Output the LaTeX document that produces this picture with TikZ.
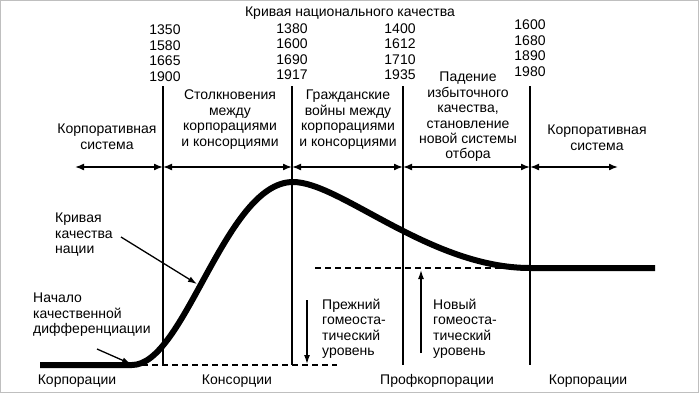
\documentclass[tikz,border=0pt]{standalone}
\usepackage{fontspec}
\setmainfont{Liberation Sans}
\usetikzlibrary{arrows.meta}
\begin{document}
\begin{tikzpicture}[x=1pt,y=-1pt,
  lbl/.style={font=\fontsize{14}{15.4}\selectfont, inner sep=0pt, align=center, anchor=north},
  lblL/.style={lbl, align=left, anchor=north west},
  vline/.style={line width=2pt},
  span/.style={line width=1.6pt, {Latex[length=9pt,width=7pt]}-{Latex[length=9pt,width=7pt]}},
  ptr/.style={line width=1.3pt, -{Latex[length=9pt,width=6pt]}},
  qcurve/.style={line width=6pt},
  dashline/.style={line width=2pt, dash pattern=on 6pt off 4pt},
]
\path[use as bounding box] (0,0) rectangle (700,394);
\draw[black!25, line width=1pt] (0.5,0.5) rectangle (698,392.5);

% title and years
\node[lbl, anchor=base] (title) at (350,16) {Кривая национального качества};
\node[lbl] (y1) at (165,25) {1350\\1580\\1665\\1900};
\node[lbl] (y2) at (292,23.3) {1380\\1600\\1690\\1917};
\node[lbl] (y3) at (400,23.3) {1400\\1612\\1710\\1935};
\node[lbl] (y4) at (530,20) {1600\\1680\\1890\\1980};

% period labels
\node[lbl] (p0) at (107,124) {Корпоративная\\система};
\node[lbl] (p1) at (230,90) {Столкновения\\между\\корпорациями\\и консорциями};
\node[lbl] (p2) at (348,90) {Гражданские\\войны между\\корпорациями\\и консорциями};
\node[lbl] (p3) at (468,72) {Падение\\избыточного\\качества,\\становление\\новой системы\\отбора};
\node[lbl] (p4) at (597,125) {Корпоративная\\система};

% vertical lines
\coordinate (v1t) at (163,86);  \coordinate (v1b) at (163,365);
\coordinate (v2t) at (292,86);  \coordinate (v2b) at (292,365);
\coordinate (v3t) at (403,86);  \coordinate (v3b) at (403,365);
\coordinate (v4t) at (530,86);  \coordinate (v4b) at (530,365);
\draw[vline] (v1t) -- (v1b);
\draw[vline] (v2t) -- (v2b);
\draw[vline] (v3t) -- (v3b);
\draw[vline] (v4t) -- (v4b);

% span arrows
\coordinate (a0) at (75,167);
\coordinate (a1) at (163,167);
\coordinate (a2) at (292,167);
\coordinate (a3) at (403,167);
\coordinate (a4) at (530,167);
\coordinate (a5) at (618,167);
\draw[span] (a0) -- (a1);
\draw[span] (a1) -- (a2);
\draw[span] (a2) -- (a3);
\draw[span] (a3) -- (a4);
\draw[span] (a4) -- (a5);

% dashed levels
\coordinate (d1a) at (132,365); \coordinate (d1b) at (337,365);
\coordinate (d2a) at (315,268); \coordinate (d2b) at (530,268);
\draw[dashline] (d1a) -- (d1b);
\draw[dashline] (d2a) -- (d2b);

% quality curve
\coordinate (c0) at (40,365);
\coordinate (c1) at (132,365);
\coordinate (c2) at (293,182);
\coordinate (c3) at (530,268);
\coordinate (c4) at (655,268);
\draw[qcurve] (c0) -- (c1) .. controls (185,365) and (225,182) .. (c2)
  .. controls (340,182) and (430,268) .. (c3) -- (c4);

% annotations
\node[lblL] (kq) at (55,213) {Кривая\\качества\\нации};
\coordinate (kqs) at (121,237); \coordinate (kqe) at (197,284);
\draw[ptr] (kqs) -- (kqe);
\node[lblL] (nd) at (33,293) {Начало\\качественной\\дифференциации};
\coordinate (nds) at (97,349); \coordinate (nde) at (131,364);
\draw[ptr] (nds) -- (nde);

\node[lblL] (old) at (322,299) {Прежний\\гомеоста-\\тический\\уровень};
\coordinate (olds) at (307,300); \coordinate (olde) at (307,364);
\draw[ptr] (olds) -- (olde);
\node[lblL] (new) at (433,299) {Новый\\гомеоста-\\тический\\уровень};
\coordinate (news) at (421,353); \coordinate (newe) at (421,270);
\draw[ptr] (news) -- (newe);

% bottom labels
\node[lbl, anchor=base] (b1) at (77,384) {Корпорации};
\node[lbl, anchor=base] (b2) at (237,384) {Консорции};
\node[lbl, anchor=base] (b3) at (437,384) {Профкорпорации};
\node[lbl, anchor=base] (b4) at (588,384) {Корпорации};
\end{tikzpicture}
\end{document}
